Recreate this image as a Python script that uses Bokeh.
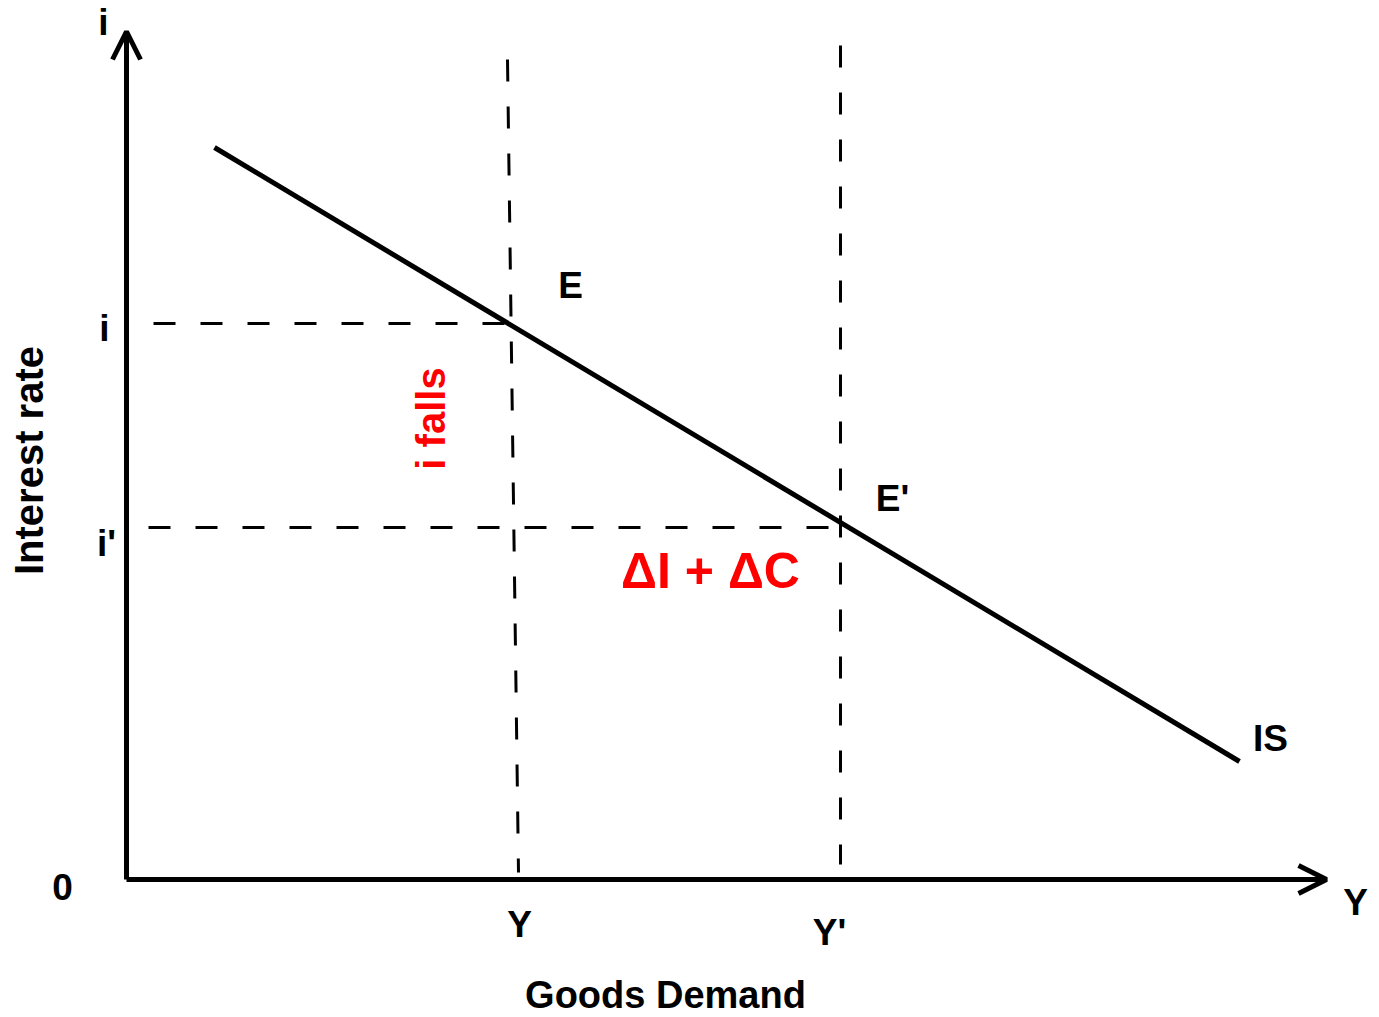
import math
from bokeh.plotting import figure
from bokeh.models import Range1d, Arrow, OpenHead, ColumnDataSource
from bokeh.core.properties import value
from bokeh.embed import file_html
from bokeh.resources import INLINE

# ---- data (diagram units; origin at the axes' corner) ----
axis_x_end = 1200
axis_y_end = 848

is_x = [88, 1113]
is_y = [732, 118]

i_level = 556          # i
i_prime_level = 352    # i'

y_line_x = [381, 392]      # Y (slightly slanted guide)
y_line_y = [820, 7]
yp_line_x = [714, 714]     # Y'
yp_line_y = [834, 15]

h1_x = [0, 384]
h2_x = [22, 714]

label_text = ["i", "0", "Y", "i", "i'", "Y", "Y'", "E", "E'", "IS"]
label_x = [-23, -64, 1229, -22, -20, 393, 703, 444, 766, 1144]
label_y = [857, -7, -23, 551, 336, -45, -53, 594, 381, 141]

FONT = "Liberation Sans"

p = figure(width=1379, height=1017, output_backend="svg", toolbar_location=None,
           x_range=Range1d(-126, 1253), y_range=Range1d(-138, 879),
           min_border=0, min_border_left=0, min_border_right=0,
           min_border_top=0, min_border_bottom=0)
p.axis.visible = False
p.grid.visible = False
p.outline_line_color = None
p.background_fill_color = "white"
p.border_fill_color = "white"

# axes with open arrow heads
p.add_layout(Arrow(end=OpenHead(size=28, line_width=5, line_color="black"),
                   x_start=0, y_start=0, x_end=axis_x_end, y_end=0,
                   line_width=5, line_color="black"))
p.add_layout(Arrow(end=OpenHead(size=28, line_width=5, line_color="black"),
                   x_start=0, y_start=0, x_end=0, y_end=axis_y_end,
                   line_width=5, line_color="black"))

# dashed guides
dash = dict(line_color="black", line_width=3, line_dash="22 25")
p.line(h1_x, [i_level, i_level], line_dash_offset=20, **dash)
p.line(h2_x, [i_prime_level, i_prime_level], **dash)
p.line(y_line_x, y_line_y, **dash)
p.line(yp_line_x, yp_line_y, **dash)

# IS curve
p.line(is_x, is_y, line_color="black", line_width=5)

# labels
src = ColumnDataSource(dict(x=label_x, y=label_y, t=label_text))
p.text(x="x", y="y", text="t", source=src, text_font=value(FONT),
       text_font_style="bold", text_font_size="37px", text_color="black",
       text_align="center", text_baseline="middle")

p.text(x=[-98], y=[419], text=["Interest rate"], angle=math.pi / 2,
       text_font=value(FONT), text_font_style="bold", text_font_size="40px",
       text_color="black", text_align="center", text_baseline="middle")
p.text(x=[539], y=[-115], text=["Goods Demand"],
       text_font=value(FONT), text_font_style="bold", text_font_size="38px",
       text_color="black", text_align="center", text_baseline="middle")

p.text(x=[304], y=[461], text=["i falls"], angle=math.pi / 2,
       text_font=value(FONT), text_font_style="bold", text_font_size="40px",
       text_color="#FF0000", text_align="center", text_baseline="middle")
p.text(x=[584], y=[309], text=["\u0394I + \u0394C"],
       text_font=value(FONT), text_font_style="bold", text_font_size="50px",
       text_color="#FF0000", text_align="center", text_baseline="middle")

open("out.html", "w").write(file_html(p, INLINE))
